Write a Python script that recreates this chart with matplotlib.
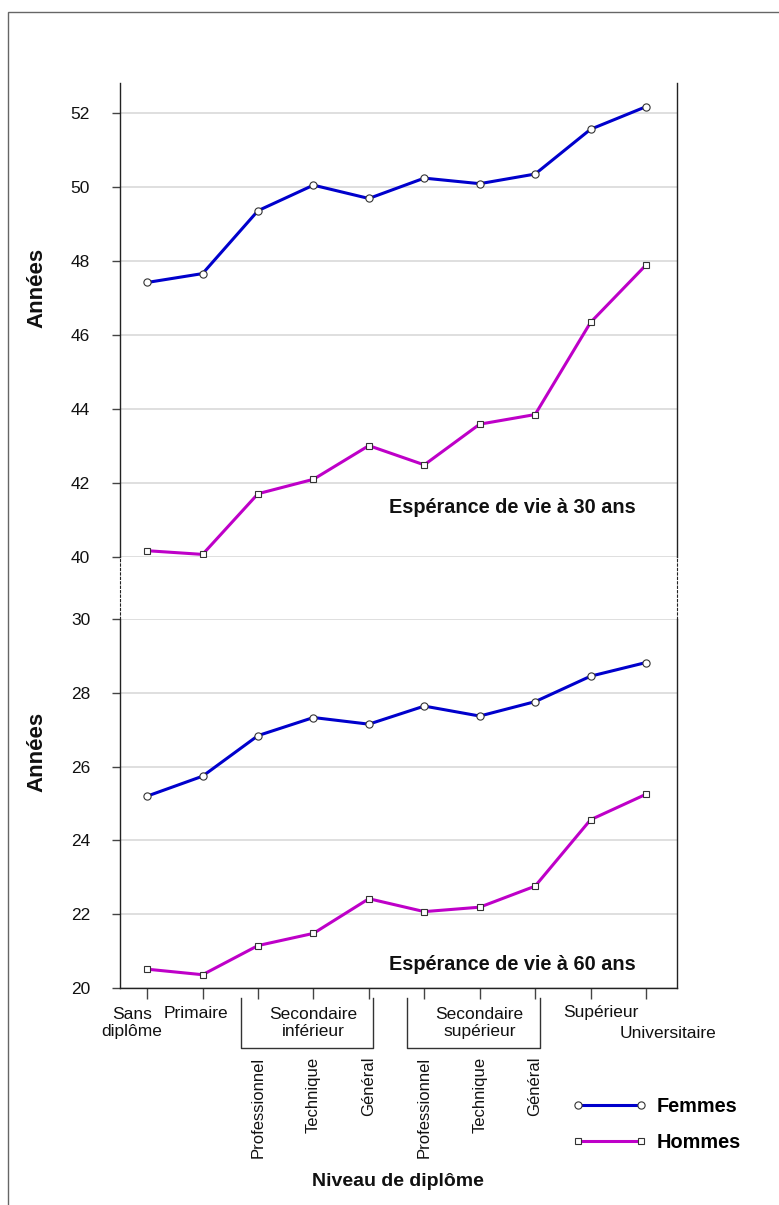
import matplotlib
matplotlib.use("Agg")
import matplotlib.pyplot as plt
from matplotlib import transforms
from matplotlib.lines import Line2D
from matplotlib.patches import Rectangle

plt.rcParams['font.family'] = ['Liberation Sans', 'DejaVu Sans']

# Niveaux de diplôme (positions 1..10)
niveaux = list(range(1, 11))
labels_haut = ["Sans\ndiplôme", "Primaire", "Supérieur", "Universitaire"]
groupes = ["Secondaire\ninférieur", "Secondaire\nsupérieur"]
filieres = ["Professionnel", "Technique", "Général"]

# Espérance de vie à 30 ans
femmes_30 = [47.42, 47.66, 49.36, 50.05, 49.69, 50.24, 50.09, 50.35, 51.56, 52.17]
hommes_30 = [40.17, 40.07, 41.71, 42.10, 43.01, 42.49, 43.59, 43.85, 46.34, 47.89]
# Espérance de vie à 60 ans
femmes_60 = [25.20, 25.74, 26.84, 27.33, 27.15, 27.64, 27.37, 27.76, 28.45, 28.82]
hommes_60 = [20.51, 20.36, 21.15, 21.48, 22.42, 22.07, 22.19, 22.76, 24.56, 25.25]

W, H = 779, 1205
fig = plt.figure(figsize=(W / 100, H / 100), dpi=100)


def fx(px):
    return px / W


def fy(py):
    return 1 - py / H


LEFT, RIGHT = 120, 677
TOP, BREAK_TOP, BREAK_BOT, BOTTOM = 83, 557, 619, 988

ax_top = fig.add_axes([fx(LEFT), fy(BREAK_TOP), fx(RIGHT - LEFT), (BREAK_TOP - TOP) / H])
ax_gap = fig.add_axes([fx(LEFT), fy(BREAK_BOT), fx(RIGHT - LEFT), (BREAK_BOT - BREAK_TOP) / H])
ax_bot = fig.add_axes([fx(LEFT), fy(BOTTOM), fx(RIGHT - LEFT), (BOTTOM - BREAK_BOT) / H])

C_F = '#0000CC'
C_H = '#BE00C8'
TXT = '#111111'
FS = 12.5
line_kw = dict(lw=2.2, mfc='white', mec='#333333', mew=0.8, zorder=3)

for ax in (ax_top, ax_bot):
    ax.set_xlim(0.51, 10.56)
    ax.grid(axis='y', color='#dcdcdc', lw=1.3)
    ax.set_axisbelow(True)
    ax.spines['top'].set_visible(False)
    for s in ('left', 'right', 'bottom'):
        ax.spines[s].set_color('#222222')
        ax.spines[s].set_linewidth(1.0)
    ax.tick_params(axis='y', direction='out', length=5.5, width=1.0, color='#444444',
                   labelsize=FS, pad=16, labelcolor=TXT)
    ax.set_facecolor('none')

# Panneau du haut : 30 ans
ax_top.plot(niveaux, femmes_30, color=C_F, marker='o', ms=5.2, **line_kw)
ax_top.plot(niveaux, hommes_30, color=C_H, marker='s', ms=4.4, **line_kw)
ax_top.set_ylim(40, 40 + (BREAK_TOP - TOP) / 37.0)
ax_top.set_yticks(range(40, 53, 2))
ax_top.spines['bottom'].set_visible(False)
ax_top.set_xticks([])

# Panneau du bas : 60 ans
lf, = ax_bot.plot(niveaux, femmes_60, color=C_F, marker='o', ms=5.2, **line_kw)
lh, = ax_bot.plot(niveaux, hommes_60, color=C_H, marker='s', ms=4.4, **line_kw)
ax_bot.set_ylim(20, 30)
ax_bot.set_yticks(range(20, 31, 2))
ax_bot.set_xticks(niveaux)
ax_bot.set_xticklabels([])
ax_bot.tick_params(axis='x', direction='out', length=8, width=1.0, color='#444444')

# Rupture d'échelle : bords pointillés
ax_gap.set_xticks([])
ax_gap.set_yticks([])
ax_gap.set_facecolor('none')
for s in ('top', 'bottom'):
    ax_gap.spines[s].set_visible(False)
for s in ('left', 'right'):
    ax_gap.spines[s].set_linestyle((0, (2, 2)))
    ax_gap.spines[s].set_linewidth(0.8)
    ax_gap.spines[s].set_color('#222222')

# Titres des panneaux
txt_kw = dict(fontsize=14.3, fontweight='bold', color=TXT, ha='left', va='center')
fig.text(fx(389), fy(507), "Espérance de vie à 30 ans", **txt_kw)
fig.text(fx(389), fy(964), "Espérance de vie à 60 ans", **txt_kw)

# Titres des axes Y
for yc in (288, 752):
    fig.text(fx(37), fy(yc), "Années", rotation=90, fontsize=16, fontweight='bold',
             ha='center', va='center', color=TXT)

# Étiquettes de l'axe X
tr = transforms.blended_transform_factory(ax_bot.transData, fig.transFigure)
lab_kw = dict(fontsize=FS, color=TXT, transform=tr, ha='center', va='center',
              multialignment='center', linespacing=1.15)
fig.text(0.72, fy(1023), labels_haut[0], **lab_kw)
fig.text(1.88, fy(1013), labels_haut[1], **lab_kw)
fig.text(9.18, fy(1013), labels_haut[2], **lab_kw)
fig.text(10.4, fy(1033), labels_haut[3], **lab_kw)

for g, (first, centre, last) in zip(groupes, [(3, 4, 5), (6, 7, 8)]):
    fig.text(centre, fy(1023), g, **lab_kw)
    x0, x1 = first - 0.31, last + 0.08
    box = Line2D([x0, x0, x1, x1], [fy(998), fy(1048), fy(1048), fy(998)],
                 transform=tr, color='#333333', lw=1.0, clip_on=False)
    fig.add_artist(box)
    for k, f in enumerate(filieres):
        fig.text(first + k, fy(1057), f, fontsize=12, color=TXT, transform=tr,
                 rotation=90, ha='center', va='top')

fig.text(fx(398), fy(1181), "Niveau de diplôme", fontsize=14, fontweight='bold',
         ha='center', va='center', color=TXT)

# Légende
fig.legend([lf, lh], ["Femmes", "Hommes"], loc='center left',
           bbox_to_anchor=(fx(572), fy(1124.5)), frameon=False, numpoints=2,
           borderaxespad=0, borderpad=0,
           handlelength=3.75, handletextpad=0.5, labelspacing=0.85,
           prop=dict(size=14.3, weight='bold'))

# Cadre
fig.add_artist(Rectangle((fx(8), -0.05), 1.2, fy(12) + 0.05, transform=fig.transFigure,
                         fill=False, edgecolor='#666666', lw=1.0, clip_on=False))

fig.savefig("out.png", dpi=100, facecolor='white')
